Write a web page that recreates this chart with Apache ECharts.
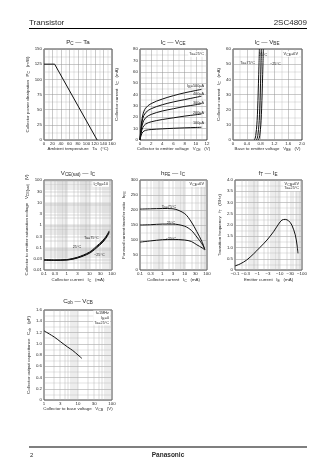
<!DOCTYPE html>
<html>
<head>
<meta charset="utf-8">
<script src="https://cdn.jsdelivr.net/npm/echarts@6/dist/echarts.min.js"></script>
<style>
  html, body { margin: 0; padding: 0; background: #fff; }
  #c { width: 336px; height: 474px; }
</style>
</head>
<body>
<div id="c"></div>
<script>
// ---------- P_C – Ta ----------
const pcTemp = [0, 25, 125];
const pcPower = [125, 125, 0];

// ---------- I_C – V_CE  (Ta = 25 °C) ----------
const vceVolts = [0, 0.2, 0.5, 1, 2, 4, 6, 8, 10, 11];
const icIb500 = [0, 12, 22, 28, 32, 36, 39, 41.5, 43.5, 44.5];
const icIb400 = [0, 10, 19, 24, 27.5, 31, 33.5, 35.5, 37.5, 38.5];
const icIb300 = [0, 8, 15, 19.5, 22.5, 25.5, 27.5, 29.5, 31, 32];
const icIb200 = [0, 6, 11, 14, 16, 18, 19.5, 21, 22.2, 22.8];
const icIb100 = [0, 4, 7, 8.5, 9.2, 9.8, 10.3, 10.7, 11, 11.2];
const ibLabels = ['500µA', '400µA', '300µA', '200µA', '100µA'];

// ---------- I_C – V_BE  (V_CE = 6 V) ----------
const vbeIc = [0, 1, 3, 7, 13, 21, 31, 43, 60];
const vbeTa75 = [0.61, 0.64, 0.66, 0.68, 0.70, 0.715, 0.73, 0.745, 0.765];
const vbeTa25 = [0.67, 0.70, 0.72, 0.74, 0.76, 0.775, 0.79, 0.805, 0.825];
const vbeTaM25 = [0.725, 0.755, 0.775, 0.795, 0.815, 0.83, 0.845, 0.86, 0.88];

// ---------- V_CE(sat) – I_C  (I_C / I_B = 10) ----------
const satIc = [0.1, 0.3, 1, 3, 10, 20, 40, 60, 75];
const satTa75 = [0.027, 0.027, 0.029, 0.037, 0.062, 0.11, 0.21, 0.36, 0.55];
const satTa25 = [0.028, 0.027, 0.028, 0.035, 0.058, 0.10, 0.19, 0.33, 0.50];
const satTaM25 = [0.029, 0.028, 0.028, 0.034, 0.055, 0.093, 0.175, 0.30, 0.46];

// ---------- hFE – I_C  (V_CE = 6 V) ----------
const hfeIc = [0.1, 0.3, 1, 3, 10, 20, 35, 60, 80];
const hfeTa75 = [203, 204, 205, 204, 188, 160, 128, 94, 68];
const hfeTa25 = [150, 151, 153, 153, 146, 132, 110, 87, 69];
const hfeTaM25 = [93, 97, 101, 102, 100, 95, 84, 74, 67];

// ---------- fT – I_E  (V_CB = 6 V, Ta = 25 °C) ----------
const ftIe = [-0.1, -0.17, -0.33, -0.67, -1.3, -2.7, -5.3, -8.9, -12.6, -17.8, -25, -35, -50, -60, -66];
const ftGHz = [0.18, 0.27, 0.44, 0.71, 1.0, 1.33, 1.70, 2.04, 2.22, 2.25, 2.19, 2.0, 1.56, 1.11, 0.74];

// ---------- Cob – V_CB  (f = 1 MHz, I_E = 0, Ta = 25 °C) ----------
const cobVcb = [1, 2, 3, 5, 7, 10, 13];
const cobPf = [1.23, 1.12, 1.04, 0.94, 0.88, 0.80, 0.74];

// ---------- log-axis tick labels ----------
const icTicks = [0.1, 0.3, 1, 3, 10, 30, 100];
const satTicks = [0.01, 0.03, 0.1, 0.3, 1, 3, 10, 30, 100];
const ieTicks = [-0.1, -0.3, -1, -3, -10, -30, -100];
const vcbTicks = [1, 3, 10, 30, 100];

// ================= drawing =================
const FONT = '"Liberation Sans", Arial, sans-serif';
const INK = '#2a2a2a';
const CURVE = '#111';
const MAJOR = '#959595';
const MINOR = '#b0b0b0';

const plots = [
  { left: 44, top: 49, width: 68, height: 91 },
  { left: 140, top: 49, width: 67, height: 91 },
  { left: 233, top: 49, width: 69, height: 91 },
  { left: 44, top: 180, width: 68, height: 90 },
  { left: 140, top: 180, width: 67, height: 90 },
  { left: 235, top: 180, width: 67, height: 90 },
  { left: 44, top: 310, width: 68, height: 90 }
];

const rich = {
  s: { fontSize: 3.6, fontFamily: FONT, color: INK, padding: [2, 0, 0, 0] },
  n: { fontSize: 4.4, fontFamily: FONT, color: INK }
};

function nameStyle() {
  return { fontSize: 4.4, fontFamily: FONT, color: INK, rich: rich };
}

function baseAxis(gi, name, gap, vertical) {
  return {
    type: 'value', gridIndex: gi,
    axisLine: { show: false },
    axisTick: { show: false },
    splitLine: { show: true, lineStyle: { color: MAJOR, width: 0.5 } },
    axisLabel: { fontSize: 4.4, color: INK, fontFamily: FONT, margin: 2, showMinLabel: true, showMaxLabel: true },
    name: name, nameLocation: 'middle', nameGap: gap,
    nameRotate: vertical ? 90 : 0,
    nameTextStyle: nameStyle()
  };
}

function linAxis(gi, min, max, interval, name, gap, vertical, fmt) {
  const a = baseAxis(gi, name, gap, vertical);
  a.min = min; a.max = max; a.interval = interval;
  a.minorTick = { show: false, splitNumber: 2 };
  a.minorSplitLine = { show: true, lineStyle: { color: MINOR, width: 0.35 } };
  if (fmt) a.axisLabel.formatter = fmt;
  return a;
}

// log-scaled axis: positions are log10 of the value, grid lines at 1..9 per decade
function logAxis(gi, labels, name, gap, vertical) {
  const mags = labels.map(v => Math.abs(v));
  const lo = Math.min.apply(null, mags), hi = Math.max.apply(null, mags);
  const e0 = Math.round(Math.log10(lo)), e1 = Math.round(Math.log10(hi));
  const grid = [];
  for (let e = e0; e < e1; e++) {
    for (let m = 1; m < 10; m++) grid.push(Math.log10(m) + e);
  }
  grid.push(e1);
  const a = baseAxis(gi, name, gap, vertical);
  a.min = e0; a.max = e1;
  a.splitLine.lineStyle = { color: MINOR, width: 0.45 };
  a.axisTick.customValues = grid;
  a.axisLabel.customValues = mags.map(v => Math.log10(v));
  a.axisLabel.formatter = function (val) {
    for (let i = 0; i < labels.length; i++) {
      if (Math.abs(Math.log10(mags[i]) - val) < 1e-6) {
        return String(labels[i]).replace('-', '\u2212');
      }
    }
    return '';
  };
  return a;
}

const lg = v => Math.log10(Math.abs(v));
function curve(gi, xs, ys, fx, fy, smooth) {
  return {
    type: 'line', xAxisIndex: gi, yAxisIndex: gi,
    data: xs.map((x, i) => [fx ? fx(x) : x, fy ? fy(ys[i]) : ys[i]]),
    showSymbol: false, symbol: 'none',
    smooth: smooth === undefined ? 0.35 : smooth, silent: true,
    lineStyle: { color: CURVE, width: 1 }, z: 5
  };
}

const xAxis = [
  linAxis(0, 0, 160, 20, 'Ambient temperature   Ta   (°C)', 6, false),
  linAxis(1, 0, 12, 2, 'Collector to emitter voltage   V{s|CE}   (V)', 6, false),
  linAxis(2, 0, 2.0, 0.4, 'Base to emitter voltage   V{s|BE}   (V)', 6, false, v => v === 0 ? '0' : v.toFixed(1)),
  logAxis(3, icTicks, 'Collector current   I{s|C}   (mA)', 7, false),
  logAxis(4, icTicks, 'Collector current   I{s|C}   (mA)', 7, false),
  logAxis(5, ieTicks, 'Emitter current   I{s|E}   (mA)', 7, false),
  logAxis(6, vcbTicks, 'Collector to base voltage   V{s|CB}   (V)', 6, false)
];

const yAxis = [
  linAxis(0, 0, 150, 25, 'Collector power dissipation   P{s|C}   (mW)', 10, true),
  linAxis(1, 0, 80, 10, 'Collector current   I{s|C}   (mA)', 20, true),
  linAxis(2, 0, 60, 10, 'Collector current   I{s|C}   (mA)', 8, true),
  logAxis(3, satTicks, 'Collector to emitter saturation voltage   V{s|CE(sat)}   (V)', 12, true),
  linAxis(4, 0, 300, 50, 'Forward current transfer ratio   h{s|FE}', 8, true),
  linAxis(5, 0, 4.0, 0.5, 'Transition frequency   f{s|T}   (GHz)', 8, true, v => v === 0 ? '0' : v.toFixed(1)),
  linAxis(6, 0, 1.6, 0.2, 'Collector output capacitance   C{s|ob}   (pF)', 11, true, v => v === 0 ? '0' : v.toFixed(1))
];

const series = [
  curve(0, pcTemp, pcPower, null, null, false),

  curve(1, vceVolts, icIb500), curve(1, vceVolts, icIb400), curve(1, vceVolts, icIb300),
  curve(1, vceVolts, icIb200), curve(1, vceVolts, icIb100),

  curve(2, vbeTa75, vbeIc), curve(2, vbeTa25, vbeIc), curve(2, vbeTaM25, vbeIc),

  curve(3, satIc, satTa75, lg, lg, 0.3), curve(3, satIc, satTa25, lg, lg, 0.3), curve(3, satIc, satTaM25, lg, lg, 0.3),

  curve(4, hfeIc, hfeTa75, lg, null, 0.3), curve(4, hfeIc, hfeTa25, lg, null, 0.3), curve(4, hfeIc, hfeTaM25, lg, null, 0.3),

  curve(5, ftIe, ftGHz, lg, null, 0.3),

  curve(6, cobVcb, cobPf, lg, null, 0.3)
];

const grid = plots.map(p => Object.assign({
  show: true, borderColor: '#111', borderWidth: 0.8, backgroundColor: 'transparent', containLabel: false
}, p));

function txt(x, y, text, size, align, extra) {
  return {
    type: 'text', x: x, y: y, silent: true, z: 50,
    style: Object.assign({
      text: text, fill: INK, fontSize: size, fontFamily: FONT,
      align: align || 'left', verticalAlign: 'middle', rich: rich
    }, extra || {})
  };
}
function boxTxt(x, y, text) {
  return txt(x, y, text, 3.8, 'right', { backgroundColor: '#fff', padding: [0.5, 1, 0.5, 1], lineHeight: 4.6 });
}
const titleRich = {
  s: { fontSize: 4.6, fontFamily: FONT, fill: INK, padding: [2.5, 0, 0, 0] }
};
function title(cx, y, text) {
  return txt(cx, y, text, 6.2, 'center', { rich: titleRich });
}

const graphic = [
  // page header
  txt(29, 23, 'Transistor', 8, 'left'),
  txt(307, 23, '2SC4809', 8, 'right'),
  { type: 'line', silent: true, shape: { x1: 29, y1: 28.5, x2: 307, y2: 28.5 }, style: { stroke: '#000', lineWidth: 1.2 } },

  // chart titles
  title(78, 42, 'P{s|C} \u2014 Ta'),
  title(173, 42, 'I{s|C} \u2014 V{s|CE}'),
  title(267, 42, 'I{s|C} \u2014 V{s|BE}'),
  title(78, 173, 'V{s|CE(sat)} \u2014 I{s|C}'),
  title(173, 173, 'h{s|FE} \u2014 I{s|C}'),
  title(268, 173, 'f{s|T} \u2014 I{s|E}'),
  title(78, 301, 'C{s|ob} \u2014 V{s|CB}'),

  // measurement conditions
  boxTxt(205, 54, 'Ta=25°C'),
  boxTxt(299, 54, 'V{s|CE}=6V'),
  boxTxt(109, 184, 'I{s|C}/I{s|B}=10'),
  boxTxt(205, 184, 'V{s|CE}=6V'),
  boxTxt(300, 186, 'V{s|CB}=6V\nTa=25°C'),
  boxTxt(110, 318, 'f=1MHz\nI{s|E}=0\nTa=25°C'),

  // curve labels
  txt(204, 86, 'I{s|B}=' + ibLabels[0], 3.8, 'right'),
  txt(204, 94, ibLabels[1], 3.8, 'right'),
  txt(204, 102.5, ibLabels[2], 3.8, 'right'),
  txt(204, 112.5, ibLabels[3], 3.8, 'right'),
  txt(204, 123, ibLabels[4], 3.8, 'right'),

  txt(255, 63, 'Ta=75°C', 3.8, 'right'),
  txt(263, 55, '25°C', 3.8, 'center'),
  txt(270, 64, '\u221225°C', 3.8, 'left'),

  txt(84, 238, 'Ta=75°C', 3.8, 'left'),
  txt(77, 247, '25°C', 3.8, 'center'),
  txt(94, 255, '\u221225°C', 3.8, 'left'),

  txt(169, 207, 'Ta=75°C', 3.8, 'center'),
  txt(171, 223, '25°C', 3.8, 'center'),
  txt(171, 239, '\u221225°C', 3.8, 'center'),

  // page footer
  { type: 'line', silent: true, shape: { x1: 29, y1: 447, x2: 307, y2: 447 }, style: { stroke: '#000', lineWidth: 1.2 } },
  txt(30, 455, '2', 6, 'left'),
  txt(168, 455, 'Panasonic', 6.5, 'center', { fontWeight: 'bold' })
];

const chart = echarts.init(document.getElementById('c'), null, { renderer: 'canvas', width: 336, height: 474 });
chart.setOption({
  animation: false,
  backgroundColor: '#fff',
  textStyle: { fontFamily: FONT },
  grid: grid,
  xAxis: xAxis,
  yAxis: yAxis,
  series: series,
  graphic: graphic
});
</script>
</body>
</html>
